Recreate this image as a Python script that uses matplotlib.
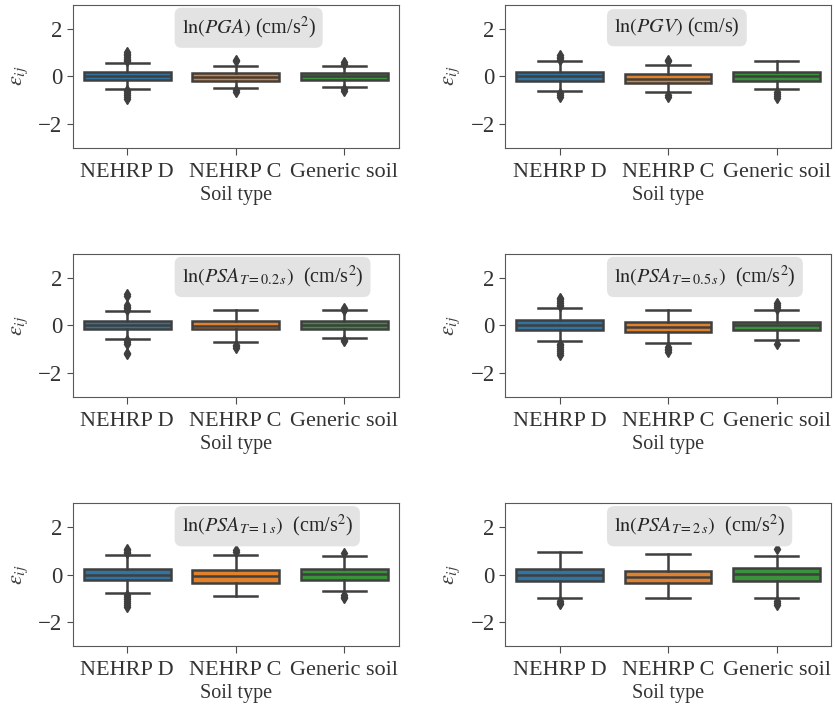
import matplotlib
matplotlib.use('Agg')
import matplotlib.pyplot as plt
import numpy as np

plt.rcParams['font.family'] = ['Liberation Serif', 'DejaVu Serif']
plt.rcParams['mathtext.fontset'] = 'stix'

soil_types = ['NEHRP D', 'NEHRP C', 'Generic soil']
im_titles = [r'$\ln(PGA)$ (cm/s$^2$)',
             r'$\ln(PGV)$ (cm/s)',
             r'$\ln(PSA_{T=0.2\,s})$  (cm/s$^2$)',
             r'$\ln(PSA_{T=0.5\,s})$  (cm/s$^2$)',
             r'$\ln(PSA_{T=1\,s})$  (cm/s$^2$)',
             r'$\ln(PSA_{T=2\,s})$  (cm/s$^2$)']

# box statistics per intensity measure (rows) and soil type (columns)
med = [[0.00, -0.03, 0.00], [0.00, -0.10, 0.00], [0.00, -0.04, 0.03],
       [0.03, -0.07, 0.00], [0.00, -0.07, 0.03], [0.00, -0.11, 0.03]]
q1 = [[-0.17, -0.20, -0.17], [-0.20, -0.27, -0.20], [-0.17, -0.17, -0.17],
      [-0.20, -0.28, -0.20], [-0.21, -0.34, -0.21], [-0.25, -0.37, -0.27]]
q3 = [[0.16, 0.13, 0.13], [0.18, 0.08, 0.18], [0.17, 0.17, 0.17],
      [0.21, 0.15, 0.15], [0.24, 0.20, 0.24], [0.24, 0.15, 0.27]]
whis_lo = [[-0.52, -0.48, -0.47], [-0.63, -0.66, -0.55], [-0.56, -0.68, -0.52],
           [-0.66, -0.73, -0.60], [-0.79, -0.89, -0.69], [-0.97, -0.96, -1.00]]
whis_hi = [[0.54, 0.43, 0.45], [0.64, 0.46, 0.64], [0.59, 0.63, 0.63],
           [0.73, 0.63, 0.63], [0.83, 0.83, 0.77], [0.94, 0.86, 0.80]]

fliers = [
    [[0.62, 0.68, 0.74, 0.80, 0.88, 0.95, 1.02, -0.58, -0.64, -0.72, -0.80, -0.88, -0.95],
     [0.62, 0.68, -0.60, -0.68],
     [0.52, 0.58, -0.55, -0.62]],
    [[0.70, 0.76, 0.82, 0.88, -0.72, -0.80, -0.86],
     [0.62, 0.70, -0.80, -0.86],
     [-0.68, -0.76, -0.84, -0.90]],
    [[0.66, 0.72, 0.78, 0.84, 1.22, 1.32, -0.62, -0.70, -0.78, -1.15, -1.20],
     [-0.82, -0.88, -0.95],
     [0.66, 0.72, -0.62, -0.66]],
    [[0.80, 0.88, 0.96, 1.04, 1.10, 1.16, -0.76, -0.84, -0.92, -1.00, -1.08, -1.16, -1.25],
     [-0.92, -0.98, -1.04, -1.10],
     [0.70, 0.78, 0.86, 0.94, -0.76]],
    [[0.90, 0.96, 1.02, 1.08, -0.86, -0.94, -1.02, -1.10, -1.18, -1.26, -1.34],
     [0.96, 1.02],
     [0.90, -0.86, -0.92, -1.00]],
    [[-1.12, -1.18, -1.24],
     [],
     [1.08, -1.12, -1.20, -1.28]],
]

colors = ['#3274a1', '#e1812c', '#3a923a']
line_c = '#3f3f3f'
lw = 1.8

fig, axes = plt.subplots(3, 2, figsize=(8.35, 7.04), dpi=100)
plt.subplots_adjust(left=0.0874, right=0.995, top=0.993, bottom=0.0824,
                    wspace=0.328, hspace=0.748)

for k, ax in enumerate(axes.flat):
    stats = []
    for j in range(3):
        stats.append(dict(med=med[k][j], q1=q1[k][j], q3=q3[k][j],
                          whislo=whis_lo[k][j], whishi=whis_hi[k][j],
                          fliers=np.array(fliers[k][j])))
    bp = ax.bxp(stats, positions=range(3), widths=0.8, patch_artist=True,
                boxprops=dict(edgecolor=line_c, linewidth=lw),
                medianprops=dict(color=line_c, linewidth=lw),
                whiskerprops=dict(color=line_c, linewidth=lw),
                capprops=dict(color=line_c, linewidth=lw),
                flierprops=dict(marker='d', markerfacecolor=line_c,
                                markeredgecolor=line_c, markersize=5.5))
    for patch, c in zip(bp['boxes'], colors):
        patch.set_facecolor(c)

    ax.set_xlim(-0.5, 2.5)
    ax.set_ylim(-3, 3)
    ax.set_yticks([-2, 0, 2])
    ax.set_xticks(range(3))
    ax.set_xticklabels(soil_types, fontsize=16, color='.2')
    ax.tick_params(axis='y', labelsize=16.5, labelcolor='.2', length=4, color='.3')
    ax.tick_params(axis='x', length=5, pad=6, color='.3')
    for s in ax.spines.values():
        s.set_color('.35')
    ax.set_xlabel('Soil type', fontsize=14.5, color='.2', labelpad=3)
    ax.set_ylabel(r'$\varepsilon_{ij}$', fontsize=16, color='.25', labelpad=6)
    ax.text(0.334, 0.84, im_titles[k], transform=ax.transAxes, fontsize=14.5,
            ha='left', va='center', color='.15',
            bbox=dict(boxstyle='round,pad=0.35', facecolor='#e3e3e3',
                      edgecolor='none'))

plt.savefig('out.png', dpi=100)
